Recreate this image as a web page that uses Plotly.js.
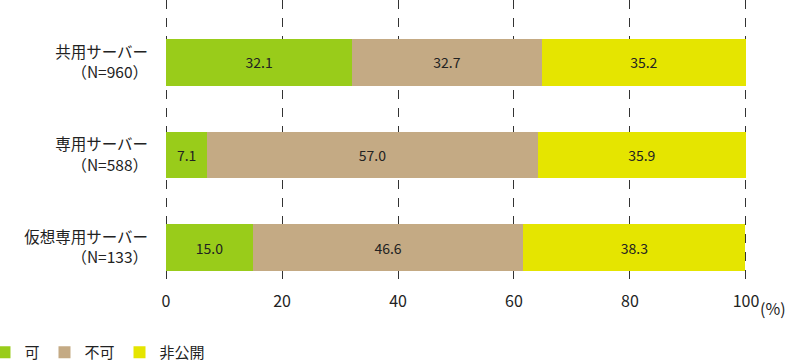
<!DOCTYPE html>
<html>
<head>
<meta charset="utf-8">
<script src="https://cdn.plot.ly/plotly-3.0.1.min.js"></script>
<style>html,body{margin:0;padding:0;background:#fff;}#chart{width:800px;height:363px;}</style>
</head>
<body>
<div id="chart"></div>
<script>
const categories = ["共用サーバー<br>（N=960）", "専用サーバー<br>（N=588）", "仮想専用サーバー<br>（N=133）"];
const seriesNames = ["可", "不可", "非公開"];
const valuesKa = [32.1, 7.1, 15.0];
const valuesFuka = [32.7, 57.0, 46.6];
const valuesHikokai = [35.2, 35.9, 38.3];
const tickVals = [0, 20, 40, 60, 80, 100];
const tickLabels = ["0", "20", "40", "60", "80", "100"];
const colors = ["#99cc1a", "#c4aa84", "#e5e500"];

const font = "Noto Sans CJK JP, Noto Sans, sans-serif";
const allValues = [valuesKa, valuesFuka, valuesHikokai];
const traces = allValues.map((vals, i) => ({
  type: "bar",
  orientation: "h",
  name: seriesNames[i],
  y: categories,
  x: vals,
  width: 0.505,
  marker: {color: colors[i], line: {width: 0}},
  texttemplate: "%{x:.1f}",
  textposition: "inside",
  insidetextanchor: "middle",
  constraintext: "none",
  textfont: {family: font, size: 14, color: "#222"},
  hoverinfo: "none"
}));

const layout = {
  width: 800, height: 363,
  margin: {l: 164, r: 52, t: 0, b: 76, autoexpand: false},
  barmode: "stack",
  paper_bgcolor: "#fff",
  plot_bgcolor: "#fff",
  font: {family: font, size: 15, color: "#222"},
  showlegend: true,
  legend: {orientation: "h", x: -0.3074, xanchor: "left", y: -0.228, yanchor: "middle",
           font: {family: font, size: 15, color: "#222"}, traceorder: "normal",
           tracegroupgap: 0},
  xaxis: {
    range: [-0.35, 100.35], tickmode: "array", tickvals: tickVals, ticktext: tickLabels,
    showgrid: true, gridcolor: "#333", griddash: "dash", gridwidth: 1,
    zeroline: false, showline: false, ticks: "", ticklen: 0, ticklabelstandoff: 3,
    tickfont: {family: font, size: 16, color: "#222"}, fixedrange: true
  },
  yaxis: {
    type: "category", categoryorder: "array", categoryarray: categories,
    range: [2.423, -0.673], showgrid: false, zeroline: false, showline: false,
    ticks: "", ticklen: 0, ticklabelstandoff: 15,
    tickfont: {family: font, size: 15.5, color: "#222"},
    automargin: false, fixedrange: true
  },
  annotations: [{
    x: 100, xref: "x", y: 0, yref: "paper", yanchor: "top", xanchor: "left",
    yshift: -7, xshift: 12, text: "(%)", showarrow: false,
    font: {family: font, size: 16, color: "#222"}
  }]
};

Plotly.newPlot("chart", traces, layout, {displayModeBar: false, staticPlot: true});
</script>
</body>
</html>
